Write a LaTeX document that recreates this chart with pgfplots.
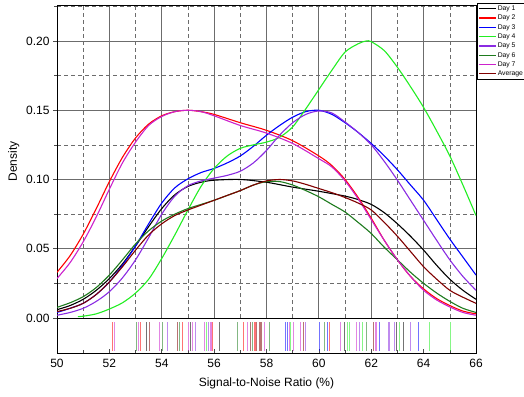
\documentclass[border=0pt]{standalone}
\usepackage{pgfplots}
\pgfplotsset{compat=1.18}
\usepackage{fontspec}
\setmainfont{Liberation Sans}
\definecolor{cday1}{HTML}{000000}
\definecolor{cday2}{HTML}{FF0000}
\definecolor{cday3}{HTML}{0000FF}
\definecolor{cday4}{HTML}{22EE22}
\definecolor{cday5}{HTML}{8A2BE2}
\definecolor{cday6}{HTML}{1E7B1E}
\definecolor{cday7}{HTML}{CC22CC}
\definecolor{cavg}{HTML}{800000}
\begin{document}
\begin{tikzpicture}[x=1pt,y=1pt]
\useasboundingbox (0,0) rectangle (524,396);
\begin{axis}[
  at={(57pt,78pt)}, anchor=south west, scale only axis,
  width=419pt, height=313pt,
  xmin=50, xmax=66, ymin=0, ymax=0.226,
  xtick={50,52,...,66}, minor xtick={51,53,...,65},
  xticklabels={}, xtick style={draw=none},
  ytick={0,0.05,0.10,0.15,0.20}, minor ytick={0.025,0.075,0.125,0.175,0.225},
  ytick pos=left, tick align=outside,
  major tick length=4pt, minor tick length=3pt,
  grid=both,
  major grid style={gray!85!black, line width=0.9pt},
  minor grid style={gray!85!black, dashed, line width=0.6pt, dash pattern=on 4pt off 3pt},
  axis line style={black, line width=0.8pt},
  tick style={black!70, line width=0.6pt},
  yticklabel style={/pgf/number format/fixed, /pgf/number format/fixed zerofill, /pgf/number format/precision=2, font=\fontsize{12}{14}\selectfont},
  /pgf/number format/assume math mode=true,
  ylabel={Density}, ylabel style={font=\fontsize{12}{14}\selectfont},
  legend style={at={(axis description cs:1.003,1.007)}, anchor=north west,
    font=\fontsize{6.8}{7}\selectfont, draw=black, line width=0.4pt,
    inner sep=1pt, row sep=0pt,
    nodes={inner sep=1pt, text height=5.5pt, text depth=1.8pt}, legend cell align=left},
  legend image code/.code={\draw[#1, line width=1.3pt] (0pt,0pt) -- (17pt,0pt);},
]
\addplot[cday1, smooth, line width=1.1pt] coordinates {(50,0.006)(50.5,0.009)(51,0.0135)(51.5,0.020)(52,0.0285)(52.5,0.039)(53,0.052)(53.5,0.066)(54,0.079)(54.5,0.089)(55,0.095)(55.5,0.098)(56,0.0995)(57,0.100)(58,0.098)(59,0.0945)(60,0.0915)(61,0.088)(61.5,0.0855)(62,0.082)(62.5,0.076)(63,0.068)(63.5,0.059)(64,0.049)(64.5,0.038)(65,0.028)(65.5,0.020)(66,0.0135)};
\addlegendentry{Day 1}
\addplot[cday2, smooth, line width=1.1pt] coordinates {(50,0.033)(50.5,0.045)(51,0.0605)(51.5,0.079)(52,0.0985)(52.5,0.116)(53,0.130)(53.5,0.140)(54,0.146)(54.5,0.149)(55,0.150)(55.5,0.149)(56,0.147)(57,0.141)(58,0.1355)(59,0.128)(60,0.117)(60.5,0.110)(61,0.100)(61.5,0.087)(62,0.072)(62.5,0.056)(63,0.042)(63.5,0.030)(64,0.021)(64.5,0.014)(65,0.009)(65.5,0.005)(66,0.003)};
\addlegendentry{Day 2}
\addplot[cday3, smooth, line width=1.1pt] coordinates {(50,0.004)(50.5,0.007)(51,0.0106)(51.5,0.017)(52,0.026)(52.5,0.038)(53,0.052)(53.5,0.068)(54,0.083)(54.5,0.094)(55,0.1005)(55.5,0.105)(56,0.108)(56.5,0.112)(57,0.117)(57.5,0.124)(58,0.132)(58.5,0.139)(59,0.145)(59.5,0.149)(60,0.150)(60.5,0.147)(61,0.141)(61.5,0.134)(62,0.126)(62.5,0.117)(63,0.107)(63.5,0.096)(64,0.085)(64.5,0.071)(65,0.057)(65.5,0.044)(66,0.031)};
\addlegendentry{Day 3}
\addplot[cday4, smooth, line width=1.1pt] coordinates {(50.8,0.001)(51,0.0013)(51.5,0.003)(52,0.0065)(52.5,0.011)(53,0.018)(53.5,0.028)(54,0.043)(54.5,0.060)(55,0.078)(55.5,0.095)(56,0.108)(56.5,0.117)(57,0.1225)(57.5,0.125)(58,0.127)(58.5,0.1305)(59,0.138)(59.5,0.151)(60,0.165)(60.5,0.179)(61,0.192)(61.5,0.198)(61.8,0.200)(62,0.1995)(62.5,0.193)(63,0.181)(63.5,0.167)(64,0.152)(64.5,0.135)(65,0.117)(65.5,0.096)(66,0.074)};
\addlegendentry{Day 4}
\addplot[cday5, smooth, line width=1.1pt] coordinates {(50,0.002)(50.5,0.004)(51,0.007)(51.5,0.012)(52,0.019)(52.5,0.029)(53,0.042)(53.5,0.058)(54,0.075)(54.5,0.088)(55,0.0955)(55.5,0.099)(56,0.101)(56.5,0.103)(57,0.106)(57.5,0.112)(58,0.121)(58.5,0.132)(59,0.141)(59.5,0.147)(60,0.1495)(60.5,0.148)(61,0.1415)(61.5,0.134)(62,0.125)(62.5,0.113)(63,0.0995)(63.5,0.085)(64,0.0705)(64.5,0.056)(65,0.042)(65.5,0.030)(66,0.020)};
\addlegendentry{Day 5}
\addplot[cday6, smooth, line width=1.1pt] coordinates {(50,0.0077)(50.5,0.011)(51,0.0154)(51.5,0.022)(52,0.031)(52.5,0.042)(53,0.0535)(53.5,0.063)(54,0.070)(54.5,0.075)(55,0.079)(55.5,0.082)(56,0.085)(56.5,0.0885)(57,0.092)(57.5,0.096)(58,0.0985)(58.5,0.0985)(59,0.096)(59.5,0.092)(60,0.0875)(60.5,0.082)(61,0.0765)(61.5,0.069)(62,0.061)(62.5,0.051)(63,0.042)(63.5,0.033)(64,0.025)(64.5,0.018)(65,0.012)(65.5,0.007)(66,0.004)};
\addlegendentry{Day 6}
\addplot[cday7, smooth, line width=1.1pt] coordinates {(50,0.0285)(50.5,0.040)(51,0.055)(51.5,0.073)(52,0.093)(52.5,0.112)(53,0.127)(53.5,0.139)(54,0.1455)(54.5,0.149)(55,0.150)(55.5,0.149)(56,0.146)(57,0.139)(58,0.1335)(59,0.126)(60,0.115)(60.5,0.109)(61,0.099)(61.5,0.086)(62,0.071)(62.5,0.056)(63,0.042)(63.5,0.030)(64,0.020)(64.5,0.013)(65,0.008)(65.5,0.004)(66,0.002)};
\addlegendentry{Day 7}
\addplot[cavg, smooth, line width=1.1pt] coordinates {(50,0.0046)(50.5,0.007)(51,0.0106)(51.5,0.017)(52,0.026)(52.5,0.037)(53,0.049)(53.5,0.060)(54,0.068)(54.5,0.074)(55,0.078)(55.5,0.0815)(56,0.085)(56.5,0.0885)(57,0.092)(57.5,0.096)(58,0.099)(58.5,0.100)(59,0.099)(59.5,0.0965)(60,0.0935)(60.5,0.0905)(61,0.087)(61.5,0.083)(62,0.078)(62.5,0.069)(63,0.059)(63.5,0.048)(64,0.037)(64.5,0.028)(65,0.020)(65.5,0.015)(66,0.0106)};
\addlegendentry{Average}
\end{axis}
\begin{axis}[
  at={(57pt,43pt)}, anchor=south west, scale only axis,
  width=419pt, height=35pt,
  xmin=50, xmax=66, ymin=-0.07, ymax=1.14,
  ytick=\empty,
  xtick={50,52,...,66}, minor xtick={51,53,...,65},
  xtick pos=bottom, tick align=inside,
  major tick length=4pt, minor tick length=3pt,
  axis line style={black, line width=0.8pt},
  tick style={black!70, line width=0.6pt},
  xticklabel style={font=\fontsize{12}{14}\selectfont, yshift=-3pt},
  /pgf/number format/assume math mode=true,
  xlabel={Signal-to-Noise Ratio (\%)}, xlabel style={font=\fontsize{12}{14}\selectfont, yshift=-3pt},
  every axis plot/.append style={ycomb, no markers, line width=1.1pt, opacity=0.55},
]
\addplot[cday1] coordinates {(53.42,1)(55.10,1)(56.22,1)(60.99,1)(62.97,1)(63.22,1)};
\addplot[cday2] coordinates {(52.12,1)(53.19,1)(54.78,1)(55.93,1)(57.11,1)(57.56,1)(60.42,1)};
\addplot[cday3] coordinates {(58.73,1)(58.80,1)(60.01,1)(60.32,1)(62.30,1)(63.82,1)};
\addplot[cday4] coordinates {(55.71,1)(58.92,1)(61.08,1)(61.18,1)(61.66,1)(63.09,1)(64.21,1)(65.03,1)};
\addplot[cday5] coordinates {(54.22,1)(55.30,1)(55.80,1)(59.50,1)(61.56,1)(62.65,1)(62.71,1)(62.90,1)(63.51,1)};
\addplot[cday6] coordinates {(53.02,1)(54.02,1)(54.69,1)(56.90,1)(57.47,1)(58.13,1)(60.20,1)(61.82,1)};
\addplot[cday7] coordinates {(52.21,1)(53.10,1)(53.93,1)(55.01,1)(55.18,1)(55.62,1)(55.88,1)(57.28,1)(57.91,1)(58.89,1)(59.02,1)(59.31,1)(60.83,1)(61.44,1)(62.18,1)};
\addplot[cavg] coordinates {(53.52,1)(54.61,1)(57.40,1)(57.63,1)(57.75,1)(57.81,1)(59.40,1)(62.10,1)};
\end{axis}
\end{tikzpicture}
\end{document}
